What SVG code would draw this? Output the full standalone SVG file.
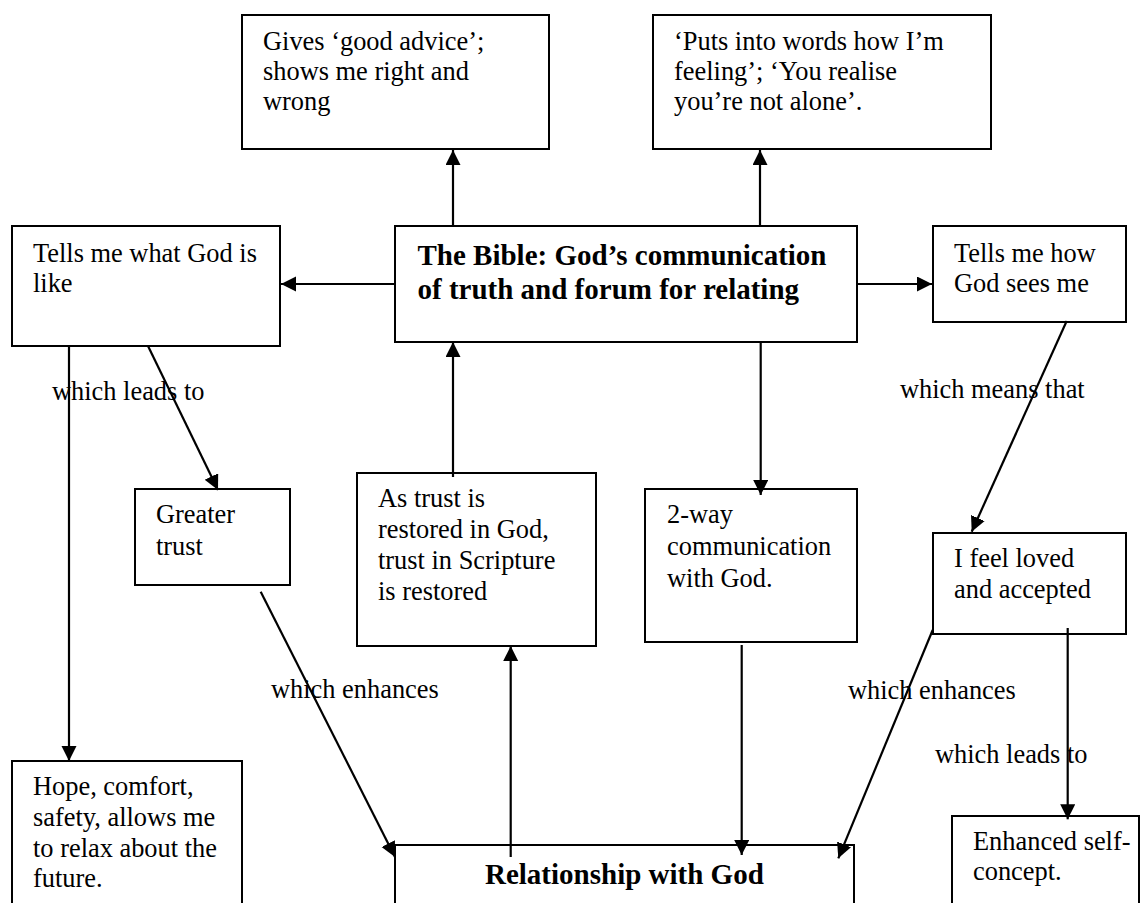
<svg xmlns="http://www.w3.org/2000/svg" width="1142" height="903" viewBox="0 0 1142 903">
  <style>
    .box { fill: #ffffff; stroke: #000000; stroke-width: 2; }
    .txt { font-family: "Liberation Serif", "Times New Roman", serif; font-size: 26.4px; fill: #000000; }
    .bold { font-family: "Liberation Serif", "Times New Roman", serif; font-size: 29px; font-weight: bold; fill: #000000; }
    .link { stroke: #000000; stroke-width: 2.2; fill: none; }
    .arrow { marker-end: url(#head); }
  </style>
  <defs>
    <marker id="head" markerUnits="userSpaceOnUse" markerWidth="16" markerHeight="16" refX="15" refY="7.5" orient="auto">
      <path d="M0,0 L15,7.5 L0,15 z" fill="#000000"/>
    </marker>
  </defs>
  <rect width="1142" height="903" fill="#ffffff"/>

  <g id="advice">
    <rect class="box" x="242" y="15" width="307" height="134"/>
    <text class="txt" x="263" y="50">Gives ‘good advice’;</text>
    <text class="txt" x="263" y="80">shows me right and</text>
    <text class="txt" x="263" y="110">wrong</text>
  </g>

  <g id="words">
    <rect class="box" x="653" y="15" width="338" height="134"/>
    <text class="txt" x="674" y="50">‘Puts into words how I’m</text>
    <text class="txt" x="674" y="80">feeling’; ‘You realise</text>
    <text class="txt" x="674" y="110">you’re not alone’.</text>
  </g>

  <g id="bible">
    <rect class="box" x="395" y="226" width="462" height="116"/>
    <text class="bold" x="417.5" y="265">The Bible: God’s communication</text>
    <text class="bold" x="417.5" y="299">of truth and forum for relating</text>
  </g>

  <g id="what-god-is-like">
    <rect class="box" x="12" y="226" width="268" height="120"/>
    <text class="txt" x="33" y="262">Tells me what God is</text>
    <text class="txt" x="33" y="292">like</text>
  </g>

  <g id="how-god-sees-me">
    <rect class="box" x="933" y="226" width="193" height="96"/>
    <text class="txt" x="954" y="262">Tells me how</text>
    <text class="txt" x="954" y="292">God sees me</text>
  </g>

  <g id="greater-trust">
    <rect class="box" x="135" y="489" width="155" height="96"/>
    <text class="txt" x="156" y="523">Greater</text>
    <text class="txt" x="156" y="555">trust</text>
  </g>

  <g id="trust-restored">
    <rect class="box" x="357" y="473" width="239" height="173"/>
    <text class="txt" x="378" y="507">As trust is</text>
    <text class="txt" x="378" y="538">restored in God,</text>
    <text class="txt" x="378" y="569">trust in Scripture</text>
    <text class="txt" x="378" y="600">is restored</text>
  </g>

  <g id="two-way">
    <rect class="box" x="645" y="489" width="212" height="153"/>
    <text class="txt" x="667" y="523">2-way</text>
    <text class="txt" x="667" y="555">communication</text>
    <text class="txt" x="667" y="587">with God.</text>
  </g>

  <g id="loved">
    <rect class="box" x="933" y="533" width="193" height="101"/>
    <text class="txt" x="954" y="567">I feel loved</text>
    <text class="txt" x="954" y="598">and accepted</text>
  </g>

  <g id="hope">
    <rect class="box" x="12" y="761" width="230" height="160"/>
    <text class="txt" x="33" y="795">Hope, comfort,</text>
    <text class="txt" x="33" y="826">safety, allows me</text>
    <text class="txt" x="33" y="857">to relax about the</text>
    <text class="txt" x="33" y="887">future.</text>
  </g>

  <g id="relationship">
    <rect class="box" x="395" y="845" width="459" height="80"/>
    <text class="bold" x="485" y="884">Relationship with God</text>
  </g>

  <g id="self-concept">
    <rect class="box" x="952" y="816" width="187" height="110"/>
    <text class="txt" x="973" y="850">Enhanced self-</text>
    <text class="txt" x="973" y="880">concept.</text>
  </g>

  <g id="labels">
    <text class="txt" x="52" y="400">which leads to</text>
    <text class="txt" x="900" y="398">which means that</text>
    <text class="txt" x="271" y="698">which enhances</text>
    <text class="txt" x="848" y="699">which enhances</text>
    <text class="txt" x="935" y="763">which leads to</text>
  </g>

  <!-- connectors drawn last so arrowheads sit on top of box borders -->
  <g id="connectors">
    <line class="link arrow" x1="453" y1="226" x2="453" y2="150"/>
    <line class="link arrow" x1="760" y1="226" x2="760" y2="150"/>
    <line class="link arrow" x1="395" y1="284" x2="281" y2="284"/>
    <line class="link arrow" x1="857" y1="284" x2="932" y2="284"/>
    <line class="link arrow" x1="69" y1="346" x2="69" y2="761"/>
    <line class="link arrow" x1="148" y1="346" x2="218" y2="490"/>
    <line class="link arrow" x1="453" y1="477" x2="453" y2="342"/>
    <line class="link arrow" x1="760.7" y1="342" x2="760.7" y2="495"/>
    <line class="link arrow" x1="260.7" y1="591.7" x2="395" y2="857"/>
    <line class="link arrow" x1="510.7" y1="857" x2="510.7" y2="646"/>
    <line class="link arrow" x1="741.7" y1="645" x2="741.7" y2="855"/>
    <line class="link arrow" x1="932.7" y1="630" x2="838.3" y2="858.3"/>
    <line class="link arrow" x1="1066.7" y1="321" x2="971.7" y2="531.7"/>
    <line class="link arrow" x1="1067.7" y1="628" x2="1067.7" y2="819.3"/>
  </g>
</svg>
